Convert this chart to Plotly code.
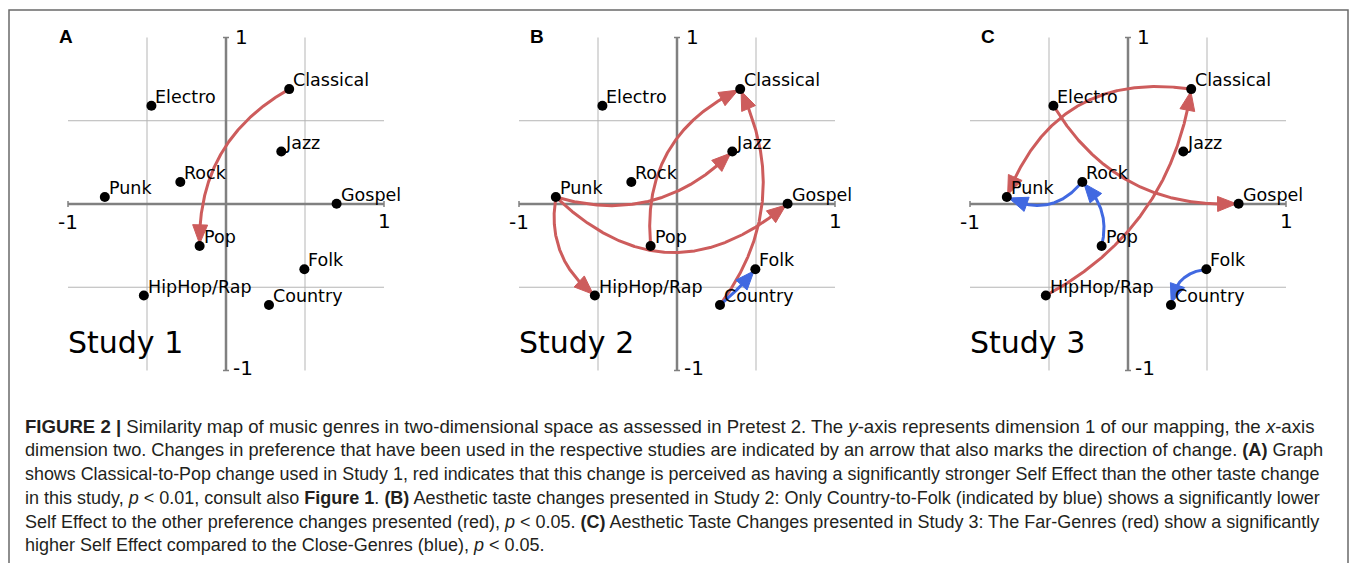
import numpy as np
import plotly.graph_objects as go

# ---------------- data ----------------
genres = ["Classical", "Electro", "Jazz", "Rock", "Punk", "Gospel",
          "Pop", "Folk", "HipHop/Rap", "Country"]
dim2_x = [0.40, -0.472, 0.35, -0.289, -0.767, 0.70, -0.167, 0.496, -0.52, 0.272]
dim1_y = [0.69, 0.59, 0.315, 0.132, 0.042, 0.002, -0.252, -0.392, -0.55, -0.607]

study_titles = ["Study 1", "Study 2", "Study 3"]
panel_letters = ["A", "B", "C"]
axis_tick_labels = ["-1", "1"]

RED = "#cd5c5c"
BLUE = "#4169e1"

# (from, to, curvature, colour)
changes_study1 = [("Classical", "Pop", 0.3, RED)]
changes_study2 = [("Pop", "Classical", -0.35, RED),
                  ("Punk", "Jazz", 0.3, RED),
                  ("Punk", "Gospel", 0.45, RED),
                  ("Punk", "HipHop/Rap", 0.3, RED),
                  ("Country", "Classical", 0.3, RED),
                  ("Country", "Folk", 0.05, BLUE)]
changes_study3 = [("HipHop/Rap", "Classical", 0.25, RED),
                  ("Classical", "Punk", 0.4, RED),
                  ("Electro", "Gospel", 0.3, RED),
                  ("Rock", "Punk", -0.4, BLUE),
                  ("Pop", "Rock", 0.3, BLUE),
                  ("Folk", "Country", 0.4, BLUE)]
changes = [changes_study1, changes_study2, changes_study3]

caption_lines = [
    "<b>FIGURE 2 |</b> Similarity map of music genres in two-dimensional space as assessed in Pretest 2. The <i>y</i>-axis represents dimension 1 of our mapping, the <i>x</i>-axis",
    "dimension two. Changes in preference that have been used in the respective studies are indicated by an arrow that also marks the direction of change. <b>(A)</b> Graph",
    "shows Classical-to-Pop change used in Study 1, red indicates that this change is perceived as having a significantly stronger Self Effect than the other taste change",
    "in this study, <i>p</i> &lt; 0.01, consult also <b>Figure 1</b>. <b>(B)</b> Aesthetic taste changes presented in Study 2: Only Country-to-Folk (indicated by blue) shows a significantly lower",
    "Self Effect to the other preference changes presented (red), <i>p</i> &lt; 0.05. <b>(C)</b> Aesthetic Taste Changes presented in Study 3: The Far-Genres (red) show a significantly",
    "higher Self Effect compared to the Close-Genres (blue), <i>p</i> &lt; 0.05.",
]
caption_sizes = [18.6, 18.2, 17.9, 18.0, 18.0, 18.0]   # justified-looking line widths

# ---------------- layout geometry ----------------
OFF = 8                          # page body margin
W, H = 1357 - 2 * OFF, 571 - 2 * OFF
SX, SY = 158.0, 166.5            # pixels per data unit
ORIGIN_X = [226 - OFF, 677 - OFF, 1128 - OFF]
ORIGIN_Y = 204 - OFF
XR = [-1.35, 1.4]
YR = [-1.1, 1.15]
LETTER_POS = [(66 - OFF, 36 - OFF), (537 - OFF, 36 - OFF), (988 - OFF, 36 - OFF)]
CAPTION_Y = [v - OFF for v in (426, 450, 474, 498, 522, 545)]
CAPTION_X = 23 - OFF

FONT = "DejaVu Sans"
CAP_FONT = "Liberation Sans, Arial"

fig = go.Figure()
shapes = []
annotations = []

pos = {g: (x, y) for g, x, y in zip(genres, dim2_x, dim1_y)}

HEAD_LEN = 19.0
HEAD_HW = 7.5
SHRINK = 2.0


def arrow_geometry(p1, p2, rad):
    P1 = np.array([p1[0] * SX, p1[1] * SY])
    P2 = np.array([p2[0] * SX, p2[1] * SY])
    d = P2 - P1
    M = (P1 + P2) / 2
    C = M + rad * np.array([d[1], -d[0]])
    t = np.linspace(0, 1, 600)[:, None]
    pts = (1 - t) ** 2 * P1 + 2 * (1 - t) * t * C + t ** 2 * P2
    dist_end = np.linalg.norm(pts - P2, axis=1)
    i_tip = np.where(dist_end >= SHRINK)[0][-1]
    tip = pts[i_tip]
    dist_tip = np.linalg.norm(pts - tip, axis=1)
    i_base = np.where(dist_tip >= HEAD_LEN)[0][-1]
    u = tip - pts[i_base]
    u = u / np.linalg.norm(u)
    base = tip - u * HEAD_LEN
    n = np.array([-u[1], u[0]])
    line = np.vstack([pts[:i_base + 1], base + u * 1.0])
    tri = np.array([tip, base + n * HEAD_HW, base - n * HEAD_HW, tip])
    return line, tri


for k in range(3):
    ox = ORIGIN_X[k]
    sfx = "" if k == 0 else str(k + 1)
    x_lo_px = max(0.0, ox + XR[0] * SX)
    x_hi_px = min(float(W), ox + XR[1] * SX)
    y_top_px = max(0.0, ORIGIN_Y - YR[1] * SY)
    y_bot_px = min(float(H), ORIGIN_Y - YR[0] * SY)
    xd = [x_lo_px / W, x_hi_px / W]
    yd = [1 - y_bot_px / H, 1 - y_top_px / H]
    xr = [(x_lo_px - ox) / SX, (x_hi_px - ox) / SX]
    yr = [(ORIGIN_Y - y_bot_px) / SY, (ORIGIN_Y - y_top_px) / SY]
    fig.update_layout(**{
        f"xaxis{sfx}": dict(domain=xd, range=xr, visible=False, fixedrange=True,
                            anchor=f"y{sfx}"),
        f"yaxis{sfx}": dict(domain=yd, range=yr, visible=False, fixedrange=True,
                            anchor=f"x{sfx}"),
    })
    xref, yref = f"x{sfx}", f"y{sfx}"

    # grid lines
    for v in (-0.5, 0.5):
        shapes.append(dict(type="line", xref=xref, yref=yref, x0=v, x1=v, y0=-1, y1=1,
                           line=dict(color="#b5b5b5", width=1), layer="below"))
        shapes.append(dict(type="line", xref=xref, yref=yref, x0=-1, x1=1, y0=v, y1=v,
                           line=dict(color="#b5b5b5", width=1), layer="below"))
    # axes
    shapes.append(dict(type="line", xref=xref, yref=yref, x0=0, x1=0, y0=-1, y1=1,
                       line=dict(color="#808080", width=2.5), layer="below"))
    shapes.append(dict(type="line", xref=xref, yref=yref, x0=-1, x1=1, y0=0, y1=0,
                       line=dict(color="#808080", width=2.5), layer="below"))
    # end caps
    cx, cy = 3 / SX, 3 / SY
    for v in (-1, 1):
        shapes.append(dict(type="line", xref=xref, yref=yref, x0=v, x1=v, y0=-cy, y1=cy,
                           line=dict(color="#808080", width=1.5), layer="below"))
        shapes.append(dict(type="line", xref=xref, yref=yref, x0=-cx, x1=cx, y0=v, y1=v,
                           line=dict(color="#808080", width=1.5), layer="below"))

    # tick labels
    annotations += [
        dict(xref=xref, yref=yref, x=0, y=1, text=axis_tick_labels[1], showarrow=False,
             xanchor="left", yanchor="middle", xshift=7, font=dict(family=FONT, size=20, color="black")),
        dict(xref=xref, yref=yref, x=0, y=-1, text=axis_tick_labels[0], showarrow=False,
             xanchor="left", yanchor="middle", xshift=5, yshift=2, font=dict(family=FONT, size=20, color="black")),
        dict(xref=xref, yref=yref, x=-1, y=0, text=axis_tick_labels[0], showarrow=False,
             xanchor="center", yanchor="middle", yshift=-18, font=dict(family=FONT, size=20, color="black")),
        dict(xref=xref, yref=yref, x=1, y=0, text=axis_tick_labels[1], showarrow=False,
             xanchor="center", yanchor="middle", yshift=-17, font=dict(family=FONT, size=20, color="black")),
    ]
    # study title
    annotations.append(dict(xref=xref, yref=yref, x=-1.015, y=-0.83, text=study_titles[k],
                            showarrow=False, xanchor="left", yanchor="middle",
                            font=dict(family=FONT, size=30, color="black")))
    # panel letter
    lx, ly = LETTER_POS[k]
    annotations.append(dict(xref="paper", yref="paper", x=lx / W, y=1 - ly / H,
                            text=f"<b>{panel_letters[k]}</b>", showarrow=False,
                            xanchor="center", yanchor="middle",
                            font=dict(family="Liberation Sans, Arial", size=19, color="black")))

    # arrows
    for src, dst, rad, col in changes[k]:
        line, tri = arrow_geometry(pos[src], pos[dst], rad)
        fig.add_trace(go.Scatter(x=line[:, 0] / SX, y=line[:, 1] / SY, mode="lines",
                                 line=dict(color=col, width=3), xaxis=xref, yaxis=yref,
                                 hoverinfo="skip", showlegend=False, cliponaxis=False))
        fig.add_trace(go.Scatter(x=tri[:, 0] / SX, y=tri[:, 1] / SY, mode="lines",
                                 fill="toself", fillcolor=col, line=dict(color=col, width=1),
                                 xaxis=xref, yaxis=yref, hoverinfo="skip", showlegend=False,
                                 cliponaxis=False))

    # genre dots
    fig.add_trace(go.Scatter(x=dim2_x, y=dim1_y, mode="markers",
                             marker=dict(color="black", size=10),
                             xaxis=xref, yaxis=yref, hoverinfo="skip", showlegend=False,
                             cliponaxis=False))
    for g, x, y in zip(genres, dim2_x, dim1_y):
        annotations.append(dict(xref=xref, yref=yref, x=x, y=y, text=g, showarrow=False,
                                xanchor="left", yanchor="middle", xshift=2, yshift=9,
                                font=dict(family=FONT, size=17.5, color="black")))

# caption
for yc, txt, fs in zip(CAPTION_Y, caption_lines, caption_sizes):
    annotations.append(dict(xref="paper", yref="paper", x=CAPTION_X / W, y=1 - yc / H, text=txt,
                            showarrow=False, xanchor="left", yanchor="middle", align="left",
                            font=dict(family=CAP_FONT, size=fs, color="#231f20")))

# outer frame
shapes.append(dict(type="rect", xref="paper", yref="paper", x0=1 / W, x1=(W - 1) / W,
                   y0=-0.05, y1=1 - (10 - OFF) / H, line=dict(color="#6a6a6a", width=1.5),
                   fillcolor="rgba(0,0,0,0)", layer="below"))

fig.update_layout(width=W, height=H, margin=dict(l=0, r=0, t=0, b=0),
                  paper_bgcolor="white", plot_bgcolor="white",
                  shapes=shapes, annotations=annotations, showlegend=False)

fig.write_html("out.html")
